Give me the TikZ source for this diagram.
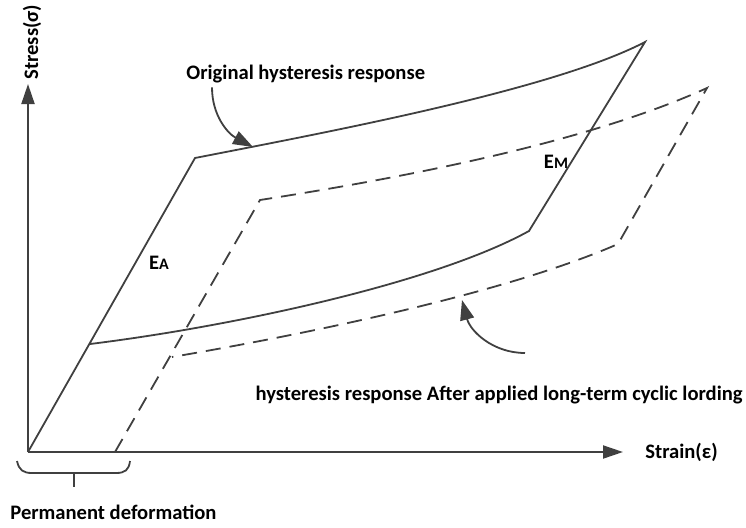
\documentclass[tikz,border=0pt]{standalone}
\usepackage{fontspec}
\setmainfont{Carlito}
\usetikzlibrary{arrows.meta}

\begin{document}
\begin{tikzpicture}[x=0.5pt,y=0.5pt,
  axisLine/.style={draw=colLine, line width=1pt, -{Triangle[length=10pt,width=6.5pt]}},
  origLoop/.style={draw=colLine, line width=0.9pt},
  newLoop/.style={draw=colLine, line width=0.9pt, dash pattern=on 7.5pt off 4.5pt},
  callArrow/.style={draw=colLine, line width=0.9pt, -{Triangle[length=10pt,width=7pt]}},
  lblText/.style={font=\fontsize{10.3}{12}\selectfont\bfseries, inner sep=0pt}]

% Colori
\definecolor{colLine}{HTML}{404040}

% Area del disegno
\useasboundingbox (-28,-75) rectangle (718,452);

% Assi
\coordinate (O) at (0,0);
\coordinate (xEnd) at (595,0);
\coordinate (yEnd) at (0,368);
\draw[axisLine] (O) -- (xEnd);
\draw[axisLine] (O) -- (yEnd);
\node[lblText, anchor=west] (strain) at (617,0) {Strain(ε)};
\node[lblText, rotate=90] (stress) at (4,410) {Stress(σ)};

% Ciclo originale
\coordinate (A1) at (167,294);
\coordinate (T1) at (617,410);
\coordinate (B1) at (501,221);
\coordinate (L1) at (62,108);
\draw[origLoop] (O) -- (A1) .. controls (300,320) and (525,362) .. (T1)
  -- (B1) .. controls (405,168) and (200,125) .. (L1);

% Ciclo dopo il carico ciclico
\coordinate (O2) at (87,0);
\coordinate (A2) at (232,252);
\coordinate (T2) at (679,364);
\coordinate (B2) at (590,208);
\coordinate (L2) at (144,95);
\draw[newLoop] (O2) -- (A2) .. controls (380,275) and (560,310) .. (T2)
  -- (B2) .. controls (480,160) and (290,120) .. (L2);

% Moduli
\node[lblText] (EA) at (131,189) {E{\footnotesize A}};
\node[lblText] (EM) at (528,290) {E{\footnotesize M}};

% Richiami
\node[lblText, anchor=west] (origLbl) at (158,378) {Original hysteresis response};
\coordinate (origTip) at (225,305);
\draw[callArrow] ([xshift=13pt,yshift=-2pt]origLbl.south west) to[out=-90,in=152] (origTip);

\node[lblText, anchor=east] (newLbl) at (715,57) {hysteresis response After applied long-term cyclic lording};
\coordinate (newStart) at (497,99);
\coordinate (newTip) at (434,152);
\draw[callArrow] (newStart) to[out=180,in=-75] (newTip);

% Deformazione permanente
\draw[colLine, line width=0.9pt] (-11,-9) .. controls (-9,-18) and (-5,-21) .. (4,-21)
  -- (88,-21) .. controls (97,-21) and (101,-18) .. (102,-9);
\draw[colLine, line width=0.9pt] (46,-21) -- (46,-35);
\node[lblText, anchor=west] (permLbl) at (-18,-60) {Permanent deformation};

\end{tikzpicture}
\end{document}
